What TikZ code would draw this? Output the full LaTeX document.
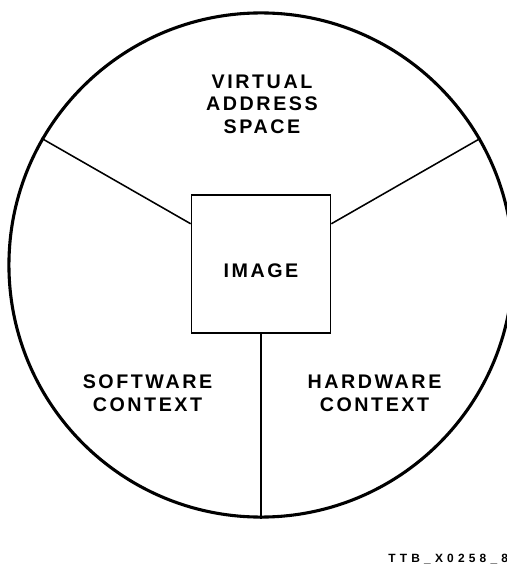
\documentclass[tikz,border=0pt]{standalone}
\usepackage{fontspec}
\setmainfont{Liberation Sans}
\newfontfamily\spacedfont[LetterSpace=13]{Liberation Sans Bold}
\newfontfamily\tagfont[LetterSpace=35]{Liberation Sans Bold}
\usetikzlibrary{positioning}
\tikzset{
  every picture/.style={line width=1.1pt},
  ring/.style={draw, circle, line width=2.2pt, minimum size=12.6cm, inner sep=0pt},
  imgbox/.style={draw, rectangle, minimum width=3.475cm, minimum height=3.45cm, inner sep=0pt,
    text height=0.65cm, text depth=0pt, font=\spacedfont\fontsize{14}{16.1}\selectfont},
  part/.style={align=center, font=\spacedfont\fontsize{14}{16.1}\selectfont},
  tag/.style={anchor=base west, font=\tagfont\fontsize{8.5}{10}\selectfont},
}

\begin{document}
\begin{tikzpicture}[x=0.025cm, y=-0.025cm]
  \useasboundingbox (0,0) rectangle (506,570);
  % process circle and image box
  \node[ring] (ring) at (261,265) {};
  \node[imgbox] (img) at (261,264) {IMAGE};
  \draw (ring.150) -- (img);
  \draw (ring.30) -- (img);
  \draw (img.south) -- (ring.south);
  % the three parts
  \node[part] (vas) at (262,104) {VIRTUAL\\ADDRESS\\SPACE};
  \node[part] (swc) at (147.5,393) {SOFTWARE\\CONTEXT};
  \node[part] (hwc) at (374.5,393) {HARDWARE\\CONTEXT};
  \node[tag] (ref) at (383,562) {TTB\_X0258\_85};
\end{tikzpicture}
\end{document}
